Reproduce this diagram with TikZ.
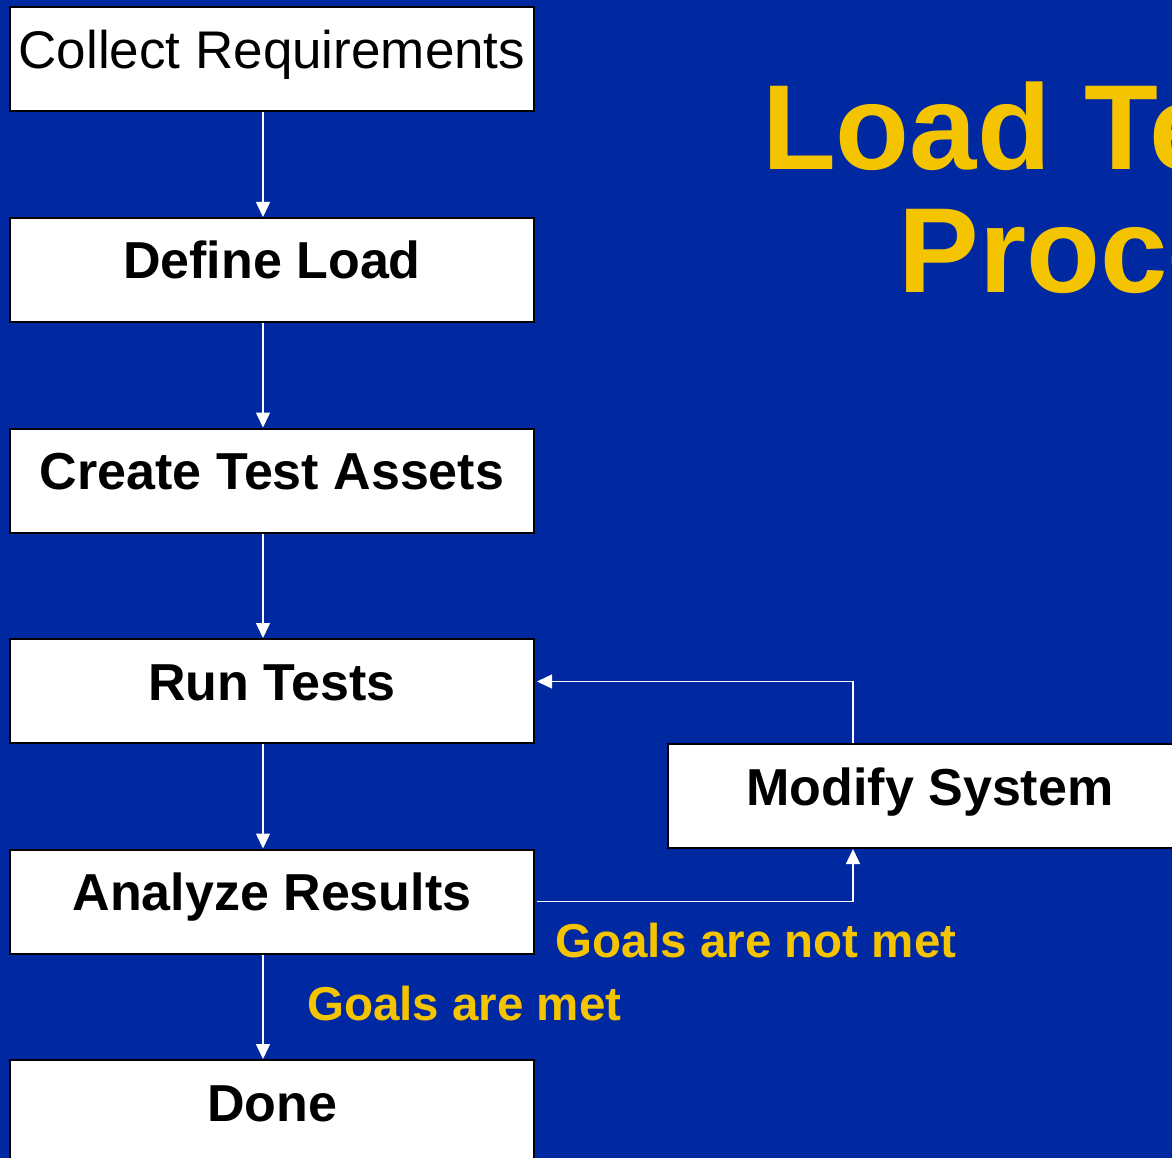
\documentclass[tikz,border=0pt]{standalone}
\usepackage{fontspec}
\setmainfont{Liberation Sans}
\usetikzlibrary{positioning,arrows.meta}
\definecolor{slideblue}{RGB}{0,40,160}
\definecolor{titleyellow}{RGB}{245,196,0}

\begin{document}
\begin{tikzpicture}[
    x=1pt, y=-1pt,
    node distance=104.5pt,
    box/.style={draw=black, line width=2pt, fill=white, rectangle, minimum width=524pt, minimum height=104pt,
        inner xsep=0pt, inner ysep=0pt, text height=61pt, text depth=43pt,
        font=\fontsize{52}{60}\selectfont\bfseries},
    goal/.style={text=titleyellow, inner sep=0pt, anchor=base west, font=\fontsize{47.5}{54}\selectfont\bfseries},
    title/.style={text=titleyellow, inner sep=0pt, anchor=base, font=\fontsize{121}{122}\selectfont\bfseries},
    arrow/.style={draw=white, line width=1.5pt, -{Triangle[length=15pt,width=14pt]}}
]
\clip (0,0) rectangle (1172,1158);
\fill[slideblue] (0,0) rectangle (1172,1158);

% title, cut off at the right edge
\node[title] (title1) at (1134,170) {Load Testing};
\node[title] (title2) at (1134,292) {Process};

% main flow
\node[box, font=\fontsize{53}{60}\selectfont] (collect) at (272,59.5) {Collect Requirements};
\node[box, below=of collect] (define) {Define Load};
\node[box, below=of define] (assets) {Create Test Assets};
\node[box, below=of assets] (run) {Run Tests};
\node[box, below=of run] (analyze) {Analyze Results};
\node[box, below=of analyze] (done) {Done};
\node[box, below right=-1pt and 132pt of run] (modify) {Modify System};

\draw[arrow] ([xshift=-9pt]collect.south) -- ([xshift=-9pt]define.north);
\draw[arrow] ([xshift=-9pt]define.south) -- ([xshift=-9pt]assets.north);
\draw[arrow] ([xshift=-9pt]assets.south) -- ([xshift=-9pt]run.north);
\draw[arrow] ([xshift=-9pt]run.south) -- ([xshift=-9pt]analyze.north);
\draw[arrow] ([xshift=-9pt]analyze.south) -- ([xshift=-9pt]done.north);

% feedback loop
\draw[arrow] ([xshift=2pt]analyze.east) -| ([xshift=-77pt]modify.south);
\draw[arrow] ([xshift=-77pt]modify.north) |- ([xshift=2pt,yshift=9.5pt]run.east);

\node[goal] (notmet) at (555,957) {Goals are not met};
\node[goal] (met) at (307,1020) {Goals are met};
\end{tikzpicture}
\end{document}
